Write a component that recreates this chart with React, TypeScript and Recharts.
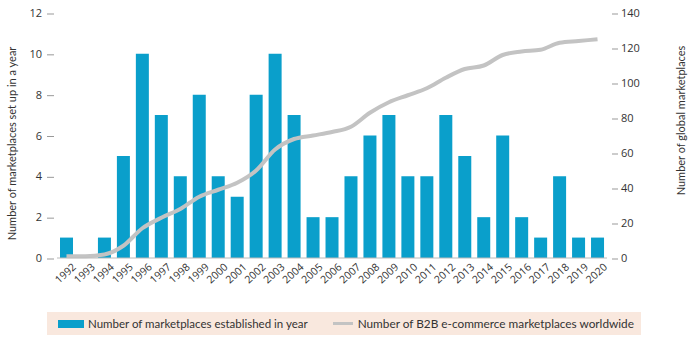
import { ComposedChart, Bar, Line, XAxis, YAxis, Label } from 'recharts';

const years = [
  '1992', '1993', '1994', '1995', '1996', '1997', '1998', '1999', '2000', '2001',
  '2002', '2003', '2004', '2005', '2006', '2007', '2008', '2009', '2010', '2011',
  '2012', '2013', '2014', '2015', '2016', '2017', '2018', '2019', '2020',
];
const established = [1, 0, 1, 5, 10, 7, 4, 8, 4, 3, 8, 10, 7, 2, 2, 4, 6, 7, 4, 4, 7, 5, 2, 6, 2, 1, 4, 1, 1];
const worldwide = [1, 1, 2, 7, 17, 23, 28, 35, 39, 43, 50, 62, 68, 70, 72, 75, 83, 89, 93, 97, 103, 108, 110, 116, 118, 119, 123, 124, 125];
const leftTicks = [0, 2, 4, 6, 8, 10, 12];
const rightTicks = [0, 20, 40, 60, 80, 100, 120, 140];

const data = years.map((year, i) => ({ year, established: established[i], worldwide: worldwide[i] }));

const BLUE = '#0a9fcb';
const GREY = '#c3c3c3';
const font = '"Open Sans", sans-serif';

function LeftTick({ x, y, payload }: any) {
  return (
    <g>
      <line x1={x - 10} x2={x - 3} y1={y + 1} y2={y + 1} stroke="#999" />
      <text x={x - 15} y={y} dy={4} textAnchor="end" fontSize={11} fill="#333" fontFamily={font}>
        {payload.value}
      </text>
    </g>
  );
}

function RightTick({ x, y, payload }: any) {
  return (
    <g>
      <line x1={x + 5} x2={x + 11} y1={y + 1} y2={y + 1} stroke="#999" />
      <text x={x + 14} y={y} dy={4} textAnchor="start" fontSize={11} fill="#333" fontFamily={font}>
        {payload.value}
      </text>
    </g>
  );
}

function YearTick({ x, y, payload }: any) {
  return (
    <text
      x={x + 5}
      y={y + 4}
      dy={8}
      textAnchor="end"
      transform={`rotate(-42, ${x + 5}, ${y + 4})`}
      fontSize={10.5}
      fill="#333"
      fontFamily={font}
    >
      {payload.value}
    </text>
  );
}

export default function App() {
  return (
    <div style={{ position: 'absolute', left: 0, top: 0, width: 700, height: 341, background: '#fff' }}>
      <ComposedChart width={700} height={300} data={data} margin={{ top: 13, right: 0, bottom: 0, left: 0 }}>
        <XAxis
          dataKey="year"
          interval={0}
          height={42}
          tickLine={false}
          tickSize={0}
          tickMargin={0}
          axisLine={{ stroke: '#bbb' }}
          tick={<YearTick />}
        />
        <YAxis
          yAxisId="left"
          orientation="left"
          width={57}
          domain={[0, 12]}
          ticks={leftTicks}
          axisLine={false}
          tickLine={false}
          tickSize={0}
          tickMargin={0}
          tick={<LeftTick />}
        >
          <Label
            value="Number of marketplaces set up in a year"
            angle={-90}
            position="center"
            dx={-16}
            dy={8}
            style={{ fontSize: 11, fill: '#333', fontFamily: 'Lato, sans-serif' }}
          />
        </YAxis>
        <YAxis
          yAxisId="right"
          orientation="right"
          width={93}
          domain={[0, 140]}
          ticks={rightTicks}
          axisLine={false}
          tickLine={false}
          tickSize={0}
          tickMargin={0}
          tick={<RightTick />}
        >
          <Label
            value="Number of global marketplaces"
            angle={-90}
            position="center"
            dx={28}
            dy={-15}
            style={{ fontSize: 11, fill: '#333', fontFamily: 'Lato, sans-serif' }}
          />
        </YAxis>
        <Bar yAxisId="left" dataKey="established" fill={BLUE} barSize={13} isAnimationActive={false} />
        <Line
          yAxisId="right"
          type="monotone"
          dataKey="worldwide"
          stroke={GREY}
          strokeWidth={4}
          dot={false}
          isAnimationActive={false}
        />
      </ComposedChart>
      <div
        style={{
          position: 'absolute',
          left: 47,
          top: 312,
          width: 594,
          height: 23,
          background: '#f9e8de',
          display: 'flex',
          alignItems: 'center',
          whiteSpace: 'nowrap',
          fontFamily: 'Lato, sans-serif',
          fontSize: 11.5,
          color: '#333',
        }}
      >
        <span style={{ flex: 'none', width: 26, height: 8, background: BLUE, marginLeft: 11, marginRight: 4 }} />
        <span>Number of marketplaces established in year</span>
        <span style={{ flex: 'none', width: 20, height: 3, background: GREY, marginLeft: 25, marginRight: 5 }} />
        <span style={{ fontSize: 11.8 }}>Number of B2B e-commerce marketplaces worldwide</span>
      </div>
    </div>
  );
}
